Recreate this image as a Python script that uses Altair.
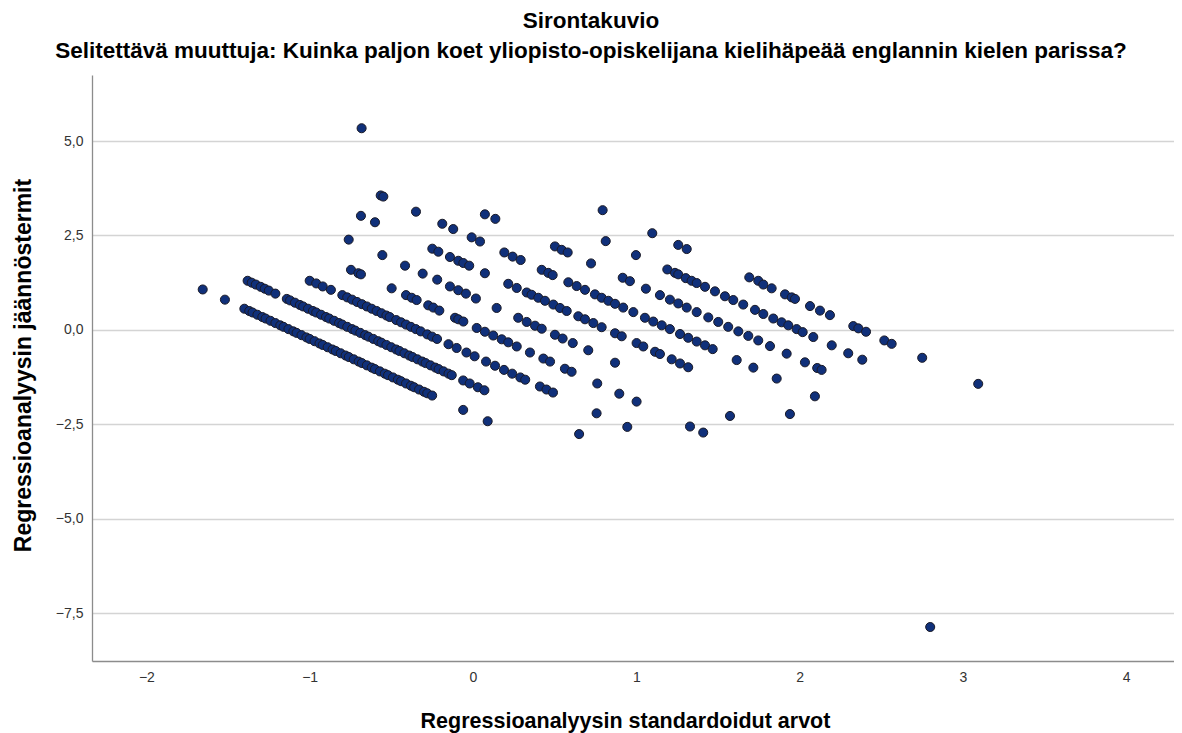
import altair as alt
import pandas as pd

# Standardized predicted value (x) and standardized residual (y),
# grouped by the diagonal band each point sits on.
A_x = [-1.655, -1.519, -1.40, -1.37, -1.35, -1.32, -1.29, -1.27, -1.24, -1.21, -1.18, -1.16, -1.13,
       -1.10, -1.08, -1.05, -1.02, -1.00, -0.97, -0.94, -0.92, -0.89, -0.86, -0.84, -0.81, -0.78,
       -0.76, -0.73, -0.70, -0.68, -0.65, -0.62, -0.60, -0.57, -0.54, -0.52, -0.49, -0.46, -0.44,
       -0.41, -0.38, -0.36, -0.33, -0.30, -0.28, -0.25, -0.06, 0.09, 2.80]
A_y = [1.07, 0.80, 0.56, 0.50, 0.46, 0.40, 0.34, 0.30, 0.24, 0.18, 0.12, 0.08, 0.02,
       -0.04, -0.08, -0.14, -0.20, -0.24, -0.30, -0.36, -0.40, -0.46, -0.52, -0.56, -0.62, -0.68,
       -0.72, -0.78, -0.84, -0.88, -0.94, -1.00, -1.04, -1.10, -1.16, -1.20, -1.26, -1.32, -1.36,
       -1.42, -1.48, -1.52, -1.58, -1.64, -1.68, -1.74, -2.12, -2.42, -7.87]

B_x = [-1.38, -1.355, -1.33, -1.30, -1.275, -1.25, -1.21, -1.14, -1.12, -1.09, -1.06, -1.04, -1.01,
       -0.98, -0.96, -0.93, -0.90, -0.88, -0.85, -0.82, -0.80, -0.77, -0.74, -0.72, -0.69, -0.66,
       -0.64, -0.61, -0.58, -0.56, -0.53, -0.50, -0.47, -0.45, -0.42, -0.39, -0.37, -0.34, -0.31,
       -0.29, -0.26, -0.23, -0.21, -0.18, -0.15, -0.13, -0.06, -0.02, 0.03, 0.07, 0.65]
B_y = [1.30, 1.25, 1.20, 1.14, 1.09, 1.04, 0.96, 0.82, 0.78, 0.72, 0.66, 0.62, 0.56,
       0.50, 0.46, 0.40, 0.34, 0.30, 0.24, 0.18, 0.14, 0.08, 0.02, -0.02, -0.08, -0.14,
       -0.18, -0.24, -0.30, -0.34, -0.40, -0.46, -0.52, -0.56, -0.62, -0.68, -0.72, -0.78, -0.84,
       -0.88, -0.94, -1.00, -1.04, -1.10, -1.16, -1.20, -1.34, -1.42, -1.52, -1.60, -2.76]

C_x = [-1.00, -0.96, -0.92, -0.87, -0.80, -0.77, -0.74, -0.71, -0.68, -0.65, -0.62, -0.59, -0.56,
       -0.53, -0.51, -0.47, -0.44, -0.41, -0.38, -0.35, -0.32, -0.28, -0.25, -0.22, -0.15, -0.10,
       -0.04, 0.01, 0.08, 0.135, 0.19, 0.24, 0.29, 0.32, 0.41, 0.45, 0.49, 0.757, 0.945]
C_y = [1.30, 1.23, 1.15, 1.06, 0.92, 0.86, 0.80, 0.74, 0.68, 0.62, 0.56, 0.50, 0.44,
       0.38, 0.34, 0.26, 0.20, 0.14, 0.08, 0.02, -0.04, -0.12, -0.18, -0.24, -0.38, -0.48,
       -0.60, -0.70, -0.84, -0.95, -1.06, -1.16, -1.26, -1.32, -1.50, -1.58, -1.66, -2.21, -2.57]

D_x = [-0.747, -0.702, -0.686, -0.498, -0.410, -0.375, -0.345, -0.274, -0.243, -0.206, -0.110,
       -0.090, -0.059, 0.023, 0.073, 0.124, 0.176, 0.216, 0.268, 0.349, 0.431, 0.472, 0.563,
       0.604, 0.761, 0.896, 1.002, 1.329, 1.410]
D_y = [1.59, 1.50, 1.47, 1.10, 0.92, 0.85, 0.79, 0.65, 0.59, 0.51, 0.32,
       0.28, 0.22, 0.05, -0.05, -0.15, -0.25, -0.33, -0.44, -0.60, -0.76, -0.84, -1.03,
       -1.11, -1.42, -1.69, -1.90, -2.56, -2.72]

E_x = [-0.761, -0.555, -0.416, -0.308, -0.219, -0.141, -0.090, -0.043, 0.018, 0.145, 0.277,
       0.329, 0.380, 0.421, 0.502, 0.549, 0.611, 0.706, 0.870, 1.574]
E_y = [2.39, 1.98, 1.70, 1.49, 1.33, 1.15, 1.05, 0.96, 0.83, 0.58, 0.32,
       0.21, 0.11, 0.03, -0.13, -0.23, -0.35, -0.54, -0.87, -2.28]

F_x = [-0.686, -0.600, -0.249, -0.212, -0.141, -0.090, -0.059, -0.023, 0.073, 0.216, 0.268,
       0.329, 0.359, 0.400, 0.441, 0.492, 0.533, 0.574, 0.645, 0.686, 0.737, 0.788, 0.870,
       0.911, 1.002, 1.043, 1.115, 1.145, 1.217, 1.268, 1.318, 1.941]
F_y = [3.02, 2.85, 2.15, 2.07, 1.93, 1.83, 1.77, 1.70, 1.50, 1.22, 1.11,
       0.99, 0.93, 0.85, 0.77, 0.67, 0.58, 0.50, 0.36, 0.28, 0.18, 0.07, -0.09,
       -0.17, -0.35, -0.44, -0.58, -0.64, -0.78, -0.89, -0.99, -2.23]

G_x = [-0.565, -0.549, -0.349, -0.188, -0.121, -0.008, 0.043, 0.192, 0.243, 0.292, 0.421,
       0.461, 0.488, 0.584, 0.635, 0.686, 0.747, 0.788, 0.829, 0.870, 0.920, 0.982, 1.053,
       1.104, 1.156, 1.206, 1.268, 1.318, 1.370, 1.421, 1.468, 1.615, 1.717, 1.860, 2.094]
G_y = [3.56, 3.53, 3.13, 2.81, 2.67, 2.45, 2.34, 2.05, 1.94, 1.85, 1.59,
       1.51, 1.45, 1.26, 1.16, 1.06, 0.94, 0.85, 0.77, 0.69, 0.59, 0.47, 0.32,
       0.22, 0.12, 0.02, -0.11, -0.21, -0.31, -0.41, -0.51, -0.80, -1.00, -1.29, -1.76]

H_x = [0.073, 0.137, 0.502, 0.543, 0.580, 0.723, 0.917, 0.961, 1.059, 1.145, 1.206, 1.257,
       1.309, 1.370, 1.441, 1.502, 1.563, 1.625, 1.686, 1.747, 1.819, 1.921, 2.033, 2.108, 2.135]
H_y = [3.06, 2.94, 2.21, 2.12, 2.05, 1.76, 1.38, 1.29, 1.09, 0.92, 0.80, 0.70,
       0.59, 0.47, 0.33, 0.21, 0.08, -0.04, -0.16, -0.28, -0.43, -0.63, -0.86, -1.01, -1.06]

I_x = [-0.682, 0.813, 0.998, 1.190, 1.237, 1.257, 1.303, 1.339, 1.370, 1.421, 1.482, 1.543,
       1.594, 1.655, 1.727, 1.778, 1.839, 1.890, 1.931, 1.982, 2.019, 2.084, 2.197, 2.298, 2.384]
I_y = [5.34, 2.35, 1.98, 1.60, 1.51, 1.47, 1.37, 1.30, 1.24, 1.14, 1.02, 0.89,
       0.79, 0.67, 0.53, 0.42, 0.30, 0.20, 0.12, 0.02, -0.06, -0.19, -0.41, -0.62, -0.79]

J_x = [0.794, 1.098, 1.257, 1.309, 1.692, 1.747, 1.778, 1.829, 1.911, 1.952, 1.972, 2.064,
       2.125, 2.186, 2.329, 2.360, 2.407, 2.519, 2.564, 2.751, 3.094]
J_y = [3.17, 2.56, 2.25, 2.14, 1.39, 1.30, 1.20, 1.10, 0.94, 0.86, 0.82, 0.63,
       0.51, 0.39, 0.10, 0.04, -0.05, -0.28, -0.37, -0.74, -1.43]

x_ticks = [-2, -1, 0, 1, 2, 3, 4]
y_ticks = [-7.5, -5.0, -2.5, 0.0, 2.5, 5.0]

xs = A_x + B_x + C_x + D_x + E_x + F_x + G_x + H_x + I_x + J_x
ys = A_y + B_y + C_y + D_y + E_y + F_y + G_y + H_y + I_y + J_y
df = pd.DataFrame({"x": xs, "y": ys})

FONT = "Liberation Sans"

chart = (
    alt.Chart(df)
    .mark_circle(size=82, color="#10307a", stroke="#1a1a26", strokeWidth=1, opacity=1)
    .encode(
        x=alt.X(
            "x:Q",
            scale=alt.Scale(domain=[-2.333, 4.293], nice=False, zero=False),
            axis=alt.Axis(
                values=x_ticks,
                format="d",
                title="Regressioanalyysin standardoidut arvot",
                grid=False,
                ticks=False,
                tickSize=0,
                labelPadding=9,
                titleX=533,
                titleY=66,
                titleAlign="center",
                titleBaseline="alphabetic",
                titleFontSize=21.5,
            ),
        ),
        y=alt.Y(
            "y:Q",
            scale=alt.Scale(domain=[-8.77, 6.75], nice=False, zero=False),
            axis=alt.Axis(
                values=y_ticks,
                labelExpr="replace(format(datum.value, '.1f'), '.', ',')",
                title="Regressioanalyysin jäännöstermit",
                grid=True,
                ticks=False,
                tickSize=0,
                labelPadding=9,
                titleX=-62,
                titleY=290,
                titleAngle=270,
                titleAlign="center",
                titleBaseline="alphabetic",
                titleFontSize=23,
            ),
        ),
    )
    .properties(
        width=1082,
        height=586,
        autosize=alt.AutoSizeParams(type="none"),
        padding={"left": 84, "top": 67, "right": 0, "bottom": 72},
        title=alt.Title(
            text="Sirontakuvio",
            subtitle="Selitettävä muuttuja: Kuinka paljon koet yliopisto-opiskelijana kielihäpeää englannin kielen parissa?",
            font=FONT,
            fontSize=22.5,
            fontWeight="bold",
            color="#000000",
            subtitleFont=FONT,
            subtitleFontSize=22.5,
            subtitleFontWeight="bold",
            subtitleColor="#000000",
            anchor="middle",
            frame="group",
            dx=-42,
            offset=13,
            subtitlePadding=7,
        ),
    )
    .configure_axis(
        labelFont=FONT,
        labelFontSize=14,
        labelColor="#333333",
        titleFont=FONT,
        titleFontWeight="bold",
        titleColor="#000000",
        domainColor="#8c8c8c",
        domainWidth=1.3,
        gridColor="#d4d4d4",
        gridWidth=1.4,
    )
    .configure_view(strokeWidth=0)
)

chart.save("out.html", embed_options={"renderer": "svg", "actions": False})
